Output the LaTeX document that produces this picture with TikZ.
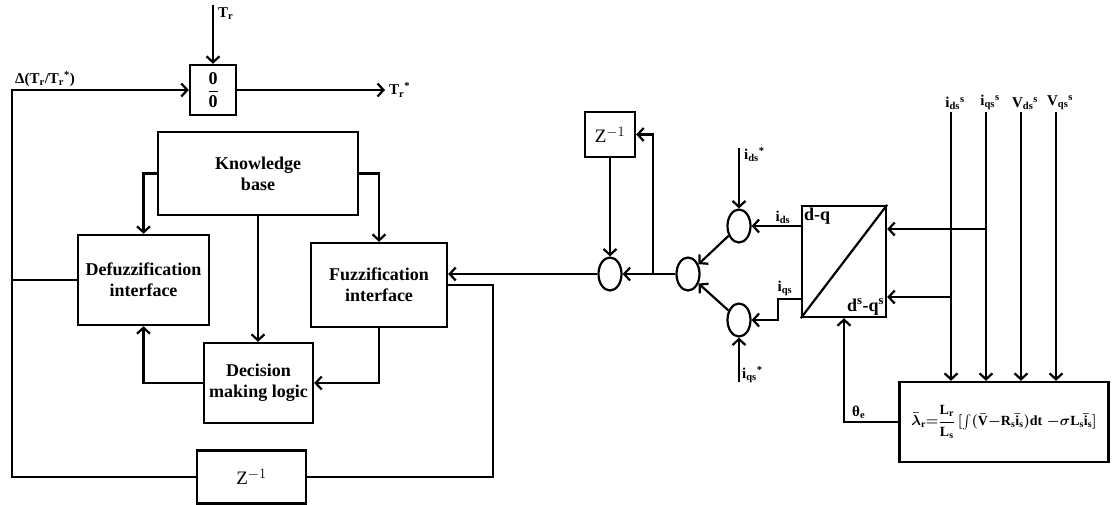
\documentclass[tikz,border=0pt]{standalone}
\usepackage{amsmath,amssymb}
\usepackage{fontspec}
\setmainfont{Liberation Serif}
\usepackage{tikz}
\usetikzlibrary{positioning,arrows.meta,calc,shapes.geometric}
\tikzset{
  >={Straight Barb[length=6pt,width=13pt]},
  every node/.style={font=\bfseries\fontsize{18}{21}\selectfont},
  blk/.style={draw, line width=2.4pt, align=center, inner sep=2pt},
  sumj/.style={draw, ellipse, line width=2.2pt, minimum width=23pt, minimum height=33pt, inner sep=0pt},
  flow/.style={->, line width=2.2pt},
  wire/.style={line width=2.2pt},
  lbl/.style={font=\bfseries\fontsize{15}{17}\selectfont, inner sep=1pt},
}

\begin{document}
\begin{tikzpicture}[x=1pt, y=-1pt]
  \useasboundingbox (0,0) rectangle (1112,504);

  % fuzzy controller (left)
  \node[blk, minimum width=46pt, minimum height=50pt] (ratio) at (213,90) {$\dfrac{\textbf{0}}{\textbf{0}}$};
  \node[blk, minimum width=200pt, minimum height=83pt] (kb) at (258,173.5) {Knowledge\\base};
  \node[blk, minimum width=131pt, minimum height=90pt] (defz) at (143.5,280) {Defuzzification\\interface};
  \node[blk, minimum width=136pt, minimum height=84pt] (fuz) at (379,285) {Fuzzification\\interface};
  \node[blk, minimum width=109pt, minimum height=80pt] (dml) at (258.5,383) {Decision\\making logic};
  \node[blk, minimum width=109pt, minimum height=53pt, font=\fontsize{19}{21}\selectfont] (zb) at (251.5,477) {Z$^{-1}$};

  \coordinate (lt) at (12,90);
  \coordinate (tin) at (213,5);
  \coordinate (tout) at (385,90);
  \coordinate (lp) at (493,285);

  \draw[flow] (tin) -- (ratio.north);
  \node[lbl, anchor=north west] (tr) at (217,6) {T\textsubscript{r}};
  \draw[flow] (zb.west) -| (lt) -- (ratio.west);
  \node[lbl, anchor=south west] (dt) at (14,88) {Δ(T\textsubscript{r}/T\textsubscript{r}\textsuperscript{*})};
  \draw[flow] (ratio.east) -- (tout);
  \node[lbl, anchor=west] (trs) at (388,90) {T\textsubscript{r}\textsuperscript{*}};

  \draw[wire] (defz.west) -- (defz.west -| lt);
  \draw[flow] (kb.west) -| (defz.north);
  \draw[flow] (kb.east) -| (fuz.north);
  \draw[flow] (kb.south) -- (kb.south |- dml.north);
  \draw[flow] (dml.west) -| (defz.south);
  \draw[flow] (fuz.south) |- (dml.east);
  \draw[wire] (zb.east) -| (lp) -- (fuz.east);

  % estimator side (right)
  \node[blk, minimum width=50pt, minimum height=45pt, font=\fontsize{19}{21}\selectfont] (zr) at (610,134.5) {Z$^{-1}$};
  \node[sumj] (s1) at (610,274) {};
  \node[sumj] (s2) at (688,274) {};
  \node[sumj] (s3) at (739,226) {};
  \node[sumj] (s4) at (739,320) {};
  \node[blk, minimum width=84pt, minimum height=111pt] (dq) at (844,261.5) {};
  \node[blk, minimum width=209pt, minimum height=80pt, font=\bfseries\mathversion{bold}\fontsize{14}{16}\selectfont] (lam) at (1004,422)
    {$\bar{\lambda}_\mathrm{r}{=}\dfrac{\mathrm{L_r}}{\mathrm{L_s}}\,[\int(\bar{\mathrm{V}}{-}\mathrm{R_s}\bar{\mathrm{i}}_\mathrm{s})\mathrm{dt}\;{-}\sigma\mathrm{L_s}\bar{\mathrm{i}}_\mathrm{s}]$};

  \draw[wire] (dq.south west) -- (dq.north east);
  \node[anchor=north west, inner sep=3pt] (dql) at (dq.north west) {d-q};
  \node[anchor=south east, inner sep=3pt] (dqs) at (dq.south east) {d\textsuperscript{s}-q\textsuperscript{s}};

  \coordinate (br) at (653,274);
  \coordinate (ids) at (739,148);
  \coordinate (iqs) at (739,382);
  \coordinate (iq) at (778,299);

  \draw[flow] (s1.west) -- (s1.west -| fuz.east);
  \draw[flow] (zr.south) -- (s1.north);
  \draw[flow] (s2.west) -- (s1.east);
  \draw[flow] (br) |- (zr.east);
  \draw[flow] (s3) -- (s2);
  \draw[flow] (s4) -- (s2);
  \draw[flow] (ids) -- (s3.north);
  \node[lbl, anchor=north west] (idsl) at (743,146) {i\textsubscript{ds}\textsuperscript{*}};
  \draw[flow] (iqs) -- (s4.south);
  \node[lbl, anchor=south west] (iqsl) at (741,384) {i\textsubscript{qs}\textsuperscript{*}};
  \draw[flow] (s3.east -| dq.west) -- (s3.east);
  \node[lbl, anchor=south] (idl) at (783,225) {i\textsubscript{ds}};
  \draw[flow] (iq -| dq.west) -- (iq) |- (s4.east);
  \node[lbl, anchor=south] (iql) at (785,297) {i\textsubscript{qs}};

  % measured inputs
  \foreach \xv/\nm/\tx/\sb in {951/a/i/ds, 986/b/i/qs, 1021/c/V/ds, 1056/d/V/qs}{
    \coordinate (v\nm) at (\xv,112);
    \node[lbl, anchor=south] (l\nm) at (\xv+4,111) {\tx\textsubscript{\sb}\textsuperscript{s}};
    \draw[flow] (v\nm) -- (v\nm |- lam.north);
  }
  \coordinate (h1) at (986,229);
  \coordinate (h2) at (951,297);
  \draw[flow] (h1) -- (h1 -| dq.east);
  \draw[flow] (h2) -- (h2 -| dq.east);

  \draw[flow] (lam.west) -| (dq.south);
  \node[lbl, anchor=south west] (th) at (851,420) {θ\textsubscript{e}};
\end{tikzpicture}
\end{document}
